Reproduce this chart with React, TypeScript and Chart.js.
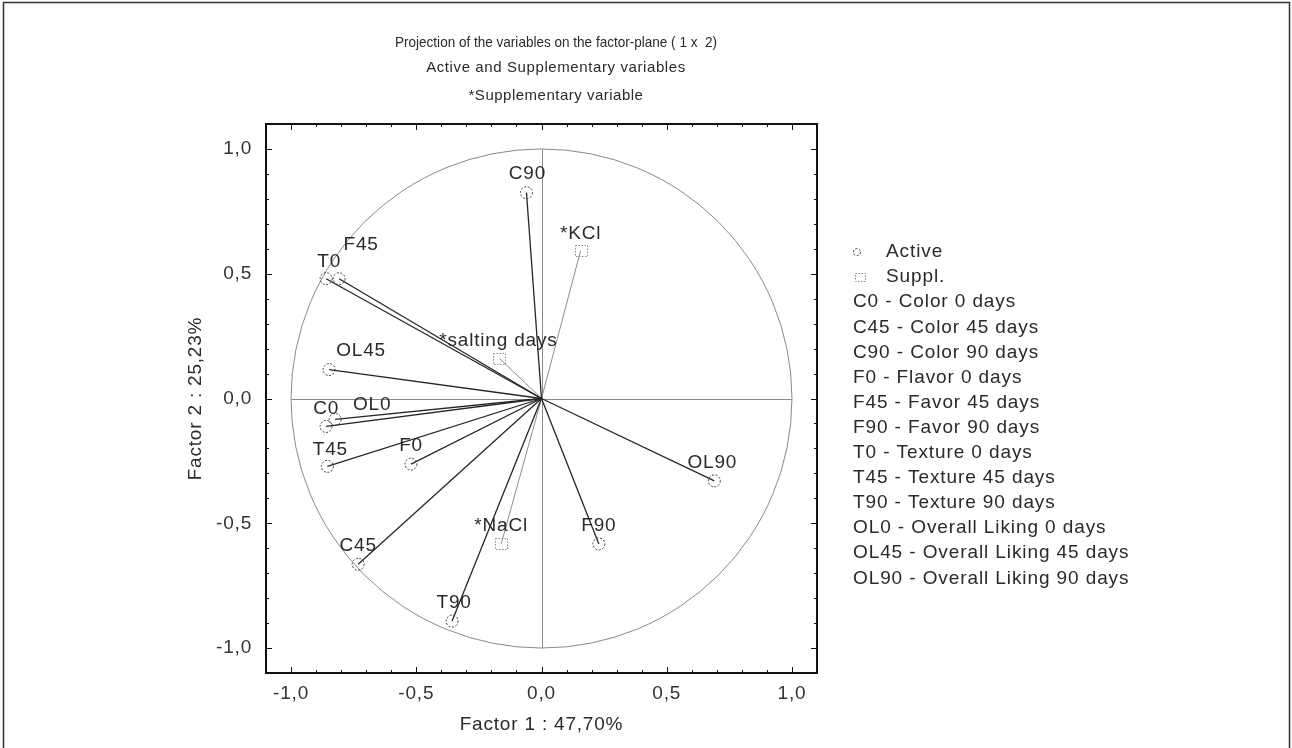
import React, { useEffect, useRef } from "react";
import { Chart, registerables } from "chart.js";

Chart.register(...registerables);

// ---------- data ----------
const titleLines = [
  "Projection of the variables on the factor-plane ( 1 x  2)",
  "Active and Supplementary variables",
  "*Supplementary variable",
];
const xAxisTitle = "Factor 1 : 47,70%";
const yAxisTitle = "Factor 2 : 25,23%";

const activeLabels = ["C0", "C45", "C90", "F0", "F45", "F90", "T0", "T45", "T90", "OL0", "OL45", "OL90"];
const activeX = [-0.86, -0.732, -0.06, -0.521, -0.808, 0.229, -0.86, -0.855, -0.357, -0.824, -0.848, 0.69];
const activeY = [-0.112, -0.664, 0.825, -0.263, 0.48, -0.583, 0.48, -0.272, -0.892, -0.084, 0.116, -0.33];

const supplLabels = ["*KCl", "*salting days", "*NaCl"];
const supplX = [0.156, -0.168, -0.161];
const supplY = [0.592, 0.161, -0.583];

const legendMarkerLabels = ["Active", "Suppl."];
const legendLines = [
  "C0 - Color 0 days",
  "C45 - Color 45 days",
  "C90 - Color 90 days",
  "F0 - Flavor 0 days",
  "F45 - Favor 45 days",
  "F90 - Favor 90 days",
  "T0 - Texture 0 days",
  "T45 - Texture 45 days",
  "T90 - Texture 90 days",
  "OL0 - Overall Liking 0 days",
  "OL45 - Overall Liking 45 days",
  "OL90 - Overall Liking 90 days",
];

const axisMin = -1.1;
const axisMax = 1.1;

// ---------- styles ----------
const FONT = "Liberation Sans, Arial, sans-serif";
const TEXT = "#2a2a2a";
const labelOffsets: Record<string, [number, number]> = {
  F45: [22, -34],
  OL45: [32, -19],
  OL0: [37, -15],
  T0: [3, -17],
  T45: [3, -17],
  C90: [1, -19],
  T90: [2, -18],
  OL90: [-2, -18],
  "*KCl": [0, -17],
  "*salting days": [-1, -18],
};
// fitWidth: horizontally condensed rendering width of the line (0 = natural)
const titleStyles = [
  { size: 15, spacing: "0px", y: 43, fitWidth: 322 },
  { size: 15, spacing: "0.6px", y: 68, fitWidth: 0 },
  { size: 15, spacing: "0.5px", y: 96, fitWidth: 0 },
];

const fmt = (v: number) => v.toFixed(1).replace(".", ",").replace("-0,0", "0,0");
const isMajor = (v: number) => Math.abs(v * 2 - Math.round(v * 2)) < 1e-6 && Math.abs(v) <= 1.0001;

const drawDottedCircle = (ctx: CanvasRenderingContext2D, x: number, y: number, r: number) => {
  ctx.save();
  ctx.setLineDash([2, 1.6]);
  ctx.strokeStyle = "#3e3e3e";
  ctx.lineWidth = 1;
  ctx.beginPath();
  ctx.arc(x, y, r, 0, Math.PI * 2);
  ctx.stroke();
  ctx.restore();
};
const drawDottedSquare = (ctx: CanvasRenderingContext2D, x: number, y: number, w: number, h: number) => {
  ctx.save();
  ctx.setLineDash([1.5, 1.5]);
  ctx.strokeStyle = "#8c8c8c";
  ctx.lineWidth = 1;
  ctx.strokeRect(Math.round(x - w / 2) + 0.5, Math.round(y - h / 2) + 0.5, w, h);
  ctx.restore();
};

const pcaPlugin = {
  id: "pcaDecor",
  beforeDraw(chart: any) {
    const ctx = chart.ctx as CanvasRenderingContext2D;
    ctx.save();
    ctx.fillStyle = "#ffffff";
    ctx.fillRect(0, 0, chart.width, chart.height);
    ctx.restore();
    (ctx as any).letterSpacing = "0.8px";
  },
  beforeDatasetsDraw(chart: any) {
    const ctx = chart.ctx as CanvasRenderingContext2D;
    const xs = chart.scales.x;
    const ys = chart.scales.y;
    const cx = xs.getPixelForValue(0);
    const cy = ys.getPixelForValue(0);
    const rx = xs.getPixelForValue(1) - cx;
    const ry = cy - ys.getPixelForValue(1);
    ctx.save();
    ctx.strokeStyle = "#8a8a8a";
    ctx.lineWidth = 1;
    ctx.beginPath();
    ctx.ellipse(cx, cy, rx, ry, 0, 0, Math.PI * 2);
    ctx.stroke();
    ctx.beginPath();
    ctx.moveTo(xs.getPixelForValue(-1), Math.round(cy) + 0.5);
    ctx.lineTo(xs.getPixelForValue(1), Math.round(cy) + 0.5);
    ctx.moveTo(Math.round(cx) + 0.5, ys.getPixelForValue(1));
    ctx.lineTo(Math.round(cx) + 0.5, ys.getPixelForValue(-1));
    ctx.stroke();
    ctx.restore();
  },
  afterDatasetsDraw(chart: any) {
    const ctx = chart.ctx as CanvasRenderingContext2D;
    ctx.save();
    ctx.font = `19px ${FONT}`;
    ctx.fillStyle = TEXT;
    ctx.textAlign = "center";
    ctx.textBaseline = "middle";
    chart.data.datasets.forEach((ds: any, i: number) => {
      const meta = chart.getDatasetMeta(i);
      const pt = meta.data[1];
      if (!pt) return;
      if (ds.kind === "active") drawDottedCircle(ctx, pt.x, pt.y, 6);
      else drawDottedSquare(ctx, pt.x, pt.y, 12, 11);
      const off = labelOffsets[ds.label] || [0, -18];
      ctx.fillText(ds.label, pt.x + off[0], pt.y + off[1]);
    });
    ctx.restore();
  },
  afterDraw(chart: any) {
    const ctx = chart.ctx as CanvasRenderingContext2D;
    const a = chart.chartArea;
    const xs = chart.scales.x;
    const ys = chart.scales.y;
    ctx.save();
    // frame
    ctx.strokeStyle = "#111";
    ctx.lineWidth = 2;
    ctx.strokeRect(a.left, a.top, a.right - a.left, a.bottom - a.top);
    // inner ticks
    ctx.lineWidth = 1;
    xs.ticks.forEach((t: any) => {
      if (Math.abs(t.value) > 1.05) return;
      const len = isMajor(t.value) ? 6 : 3;
      const px = Math.round(xs.getPixelForValue(t.value)) + 0.5;
      ctx.beginPath();
      ctx.moveTo(px, a.bottom);
      ctx.lineTo(px, a.bottom - len);
      ctx.moveTo(px, a.top);
      ctx.lineTo(px, a.top + len);
      ctx.stroke();
    });
    ys.ticks.forEach((t: any) => {
      if (Math.abs(t.value) > 1.05) return;
      const len = isMajor(t.value) ? 6 : 3;
      const py = Math.round(ys.getPixelForValue(t.value)) + 0.5;
      ctx.beginPath();
      ctx.moveTo(a.left, py);
      ctx.lineTo(a.left + len, py);
      ctx.moveTo(a.right, py);
      ctx.lineTo(a.right - len, py);
      ctx.stroke();
    });
    // titles
    ctx.fillStyle = TEXT;
    ctx.textBaseline = "middle";
    ctx.textAlign = "center";
    titleLines.forEach((l, i) => {
      const st = titleStyles[i];
      ctx.font = `${st.size}px ${FONT}`;
      (ctx as any).letterSpacing = st.spacing;
      if (st.fitWidth) {
        const w = ctx.measureText(l).width;
        const k = Math.min(1, st.fitWidth / w);
        ctx.save();
        ctx.translate(556, st.y);
        ctx.scale(k, 1);
        ctx.fillText(l, 0, 0);
        ctx.restore();
      } else {
        ctx.fillText(l, 556, st.y);
      }
    });
    (ctx as any).letterSpacing = "0.8px";
    // axis titles
    ctx.font = `19px ${FONT}`;
    ctx.fillText(xAxisTitle, (a.left + a.right) / 2, 725);
    ctx.save();
    ctx.translate(196, (a.top + a.bottom) / 2);
    ctx.rotate(-Math.PI / 2);
    ctx.fillText(yAxisTitle, 0, 0);
    ctx.restore();
    // legend
    ctx.textAlign = "left";
    ctx.font = `19px ${FONT}`;
    (ctx as any).letterSpacing = "0.9px";
    const ly0 = 252;
    const step = 25.1;
    drawDottedCircle(ctx, 857, ly0, 3.5);
    ctx.fillText(legendMarkerLabels[0], 886, ly0);
    drawDottedSquare(ctx, 860, ly0 + step, 10, 8);
    ctx.fillText(legendMarkerLabels[1], 886, ly0 + step);
    legendLines.forEach((l, i) => ctx.fillText(l, 853, ly0 + step * (i + 2)));
    // outer border
    ctx.strokeStyle = "#333";
    ctx.lineWidth = 1.5;
    ctx.beginPath();
    ctx.moveTo(3.5, 760);
    ctx.lineTo(3.5, 2.5);
    ctx.lineTo(1289.5, 2.5);
    ctx.lineTo(1289.5, 760);
    ctx.stroke();
    ctx.restore();
    (ctx as any).letterSpacing = "0px";
  },
};

export default function App() {
  const ref = useRef<HTMLCanvasElement | null>(null);
  useEffect(() => {
    if (!ref.current) return;
    const datasets: any[] = [
      ...activeLabels.map((name, i) => ({
        label: name,
        kind: "active",
        data: [
          { x: 0, y: 0 },
          { x: activeX[i], y: activeY[i] },
        ],
        showLine: true,
        borderColor: "#262626",
        borderWidth: 1.3,
        pointRadius: 0,
      })),
      ...supplLabels.map((name, i) => ({
        label: name,
        kind: "suppl",
        data: [
          { x: 0, y: 0 },
          { x: supplX[i], y: supplY[i] },
        ],
        showLine: true,
        borderColor: "#8e8e8e",
        borderWidth: 1,
        pointRadius: 0,
      })),
    ];
    const tickCfg = (padding: number) => ({
      stepSize: 0.1,
      autoSkip: false,
      maxRotation: 0,
      padding,
      color: "#333",
      font: { family: FONT, size: 19 },
      callback: (v: any) => (isMajor(Number(v)) ? fmt(Number(v)) : ""),
    });
    const chart = new Chart(ref.current, {
      type: "scatter",
      data: { datasets },
      options: {
        animation: false,
        responsive: false,
        events: [],
        layout: { padding: { left: 176, top: 124, right: 475, bottom: 15 } },
        plugins: { legend: { display: false }, tooltip: { enabled: false }, title: { display: false } },
        scales: {
          x: {
            type: "linear",
            min: axisMin,
            max: axisMax,
            grid: { display: false, drawTicks: false },
            border: { display: false },
            ticks: tickCfg(9),
            afterFit: (s: any) => {
              s.height = 60;
            },
          },
          y: {
            type: "linear",
            min: axisMin,
            max: axisMax,
            grid: { display: false, drawTicks: false },
            border: { display: false },
            ticks: tickCfg(14),
            afterFit: (s: any) => {
              s.width = 90;
            },
          },
        },
      } as any,
      plugins: [pcaPlugin],
    });
    return () => chart.destroy();
  }, []);
  return (
    <div style={{ position: "absolute", left: 0, top: 0, width: 1292, height: 748, background: "#fff" }}>
      <canvas ref={ref} width={1292} height={748} style={{ display: "block" }} />
    </div>
  );
}
